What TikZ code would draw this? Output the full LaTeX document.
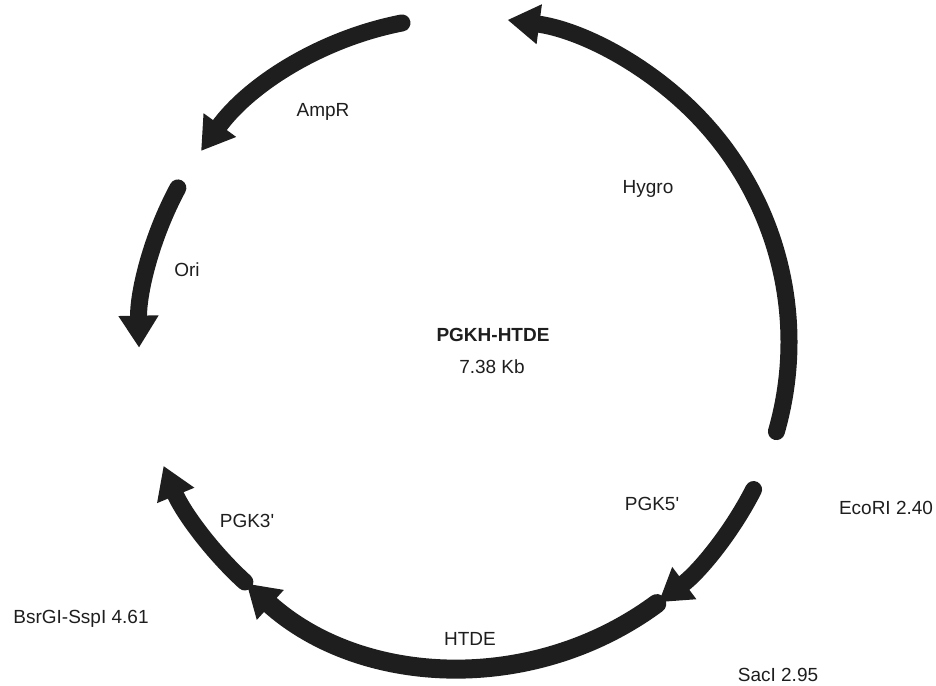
\documentclass[tikz,border=0pt]{standalone}
\usepackage{fontspec}
\setmainfont{Liberation Sans}
\usetikzlibrary{arrows.meta}
\definecolor{ink}{RGB}{30,30,30}
\begin{document}
\begin{tikzpicture}[x=1pt,y=1pt,
  gene/.style={draw=ink,line width=17pt,line cap=round},
  genearrow/.style={gene,-{Triangle[length=32pt,width=38pt]}},
  lbl/.style={anchor=base,inner sep=0pt,font=\fontsize{19}{23}\selectfont,text=ink}]
\useasboundingbox (0,0) rectangle (936,685);
\coordinate (C) at (464,343);
% AmpR
\draw[genearrow] ([shift={(101:325)}]C) arc[start angle=101,end angle=144,radius=325];
% Ori
\draw[genearrow] ([shift={(151.7:325)}]C) arc[start angle=151.7,end angle=181,radius=325];
% Hygro
\draw[genearrow] ([shift={(-16:325)}]C) arc[start angle=-16,end angle=82.3,radius=325];
% PGK5'
\draw[genearrow] ([shift={(-27:325)}]C) arc[start angle=-27,end angle=-53.2,radius=325];
% HTDE
\draw[genearrow,line width=19pt] ([shift={(-53.6:325)}]C) arc[start angle=-53.6,end angle=-132,radius=325];
% PGK3'
\draw[genearrow] ([shift={(-132.4:325)}]C) arc[start angle=-132.4,end angle=-157.6,radius=325];
% labels
\node[lbl,font=\fontsize{19}{23}\selectfont\bfseries] (name) at (493,343) {PGKH-HTDE};
\node[lbl] (size) at (492,311) {7.38 Kb};
\node[lbl] (ampr) at (323,568) {AmpR};
\node[lbl] (ori) at (187,408) {Ori};
\node[lbl] (hygro) at (648,491) {Hygro};
\node[lbl] (pgk3) at (247,157) {PGK3\textquotesingle};
\node[lbl] (htde) at (470,40) {HTDE};
\node[lbl] (pgk5) at (652,174) {PGK5\textquotesingle};
\node[lbl] (ecori) at (886,170) {EcoRI 2.40};
\node[lbl] (saci) at (778,4) {SacI 2.95};
\node[lbl] (bsrgi) at (81,62) {BsrGI-SspI 4.61};
\end{tikzpicture}
\end{document}
